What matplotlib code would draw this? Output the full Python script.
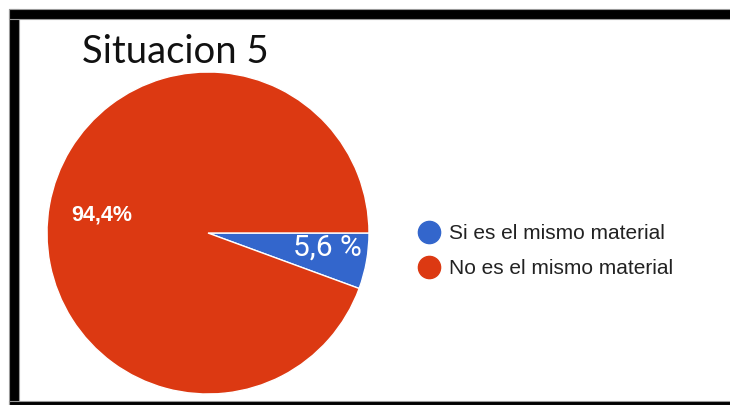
import matplotlib.pyplot as plt
from matplotlib.lines import Line2D
from matplotlib.patches import Rectangle

labels = ['Si es el mismo material', 'No es el mismo material']
values = [5.6, 94.4]
colors = ['#3366CC', '#DC3912']
title = 'Situacion 5'

W, H = 730, 405
fig = plt.figure(figsize=(W / 100, H / 100), dpi=100)
fig.patch.set_facecolor('white')

# pie axes, square in pixels
cx, cy, r = 208, 233, 161
ax = fig.add_axes([(cx - r) / W, (H - cy - r) / H, 2 * r / W, 2 * r / H])
wedges, _ = ax.pie(values, colors=colors, startangle=0, counterclock=False,
                   radius=1, wedgeprops=dict(edgecolor='white', linewidth=1))
ax.set_xlim(-1, 1)
ax.set_ylim(-1, 1)
ax.set_aspect('equal')
ax.axis('off')

ax.text(0.74, -0.093, f'{values[0]:.1f} %'.replace('.', ','), color='white',
        fontsize=21.5, family='Roboto', ha='center', va='center')
ax.text(-0.66, 0.112, f'{values[1]:.1f}%'.replace('.', ','), color='white',
        fontsize=15.5, family='Liberation Sans', fontweight='bold',
        ha='center', va='center')

fig.text(82 / W, 1 - 52 / H, title, fontsize=27.5, family='Lato',
         ha='left', va='center', color='#111111')

handles = [Line2D([], [], marker='o', linestyle='none', markersize=16,
                  markerfacecolor=c, markeredgecolor=c) for c in colors]
fig.legend(handles, labels, loc='center left',
           bbox_to_anchor=(408 / W, 1 - 251 / H), frameon=False,
           prop={'family': 'Liberation Sans', 'size': 15},
           handletextpad=0.45, labelspacing=0.78, borderpad=0,
           handlelength=1.0, labelcolor='#222222')

# black frame (left, top, bottom)
frame = dict(facecolor='black', edgecolor='#999999', linewidth=0.8,
             transform=fig.transFigure, figure=fig)
fig.patches.append(Rectangle((9 / W, 0), 9.5 / W, 1 - 9 / H, **frame))
fig.patches.append(Rectangle((9 / W, 1 - 19 / H), 1, 10 / H, **frame))
fig.patches.append(Rectangle((9 / W, 0), 1, 4 / H, **frame))

fig.savefig('out.png', dpi=100)
